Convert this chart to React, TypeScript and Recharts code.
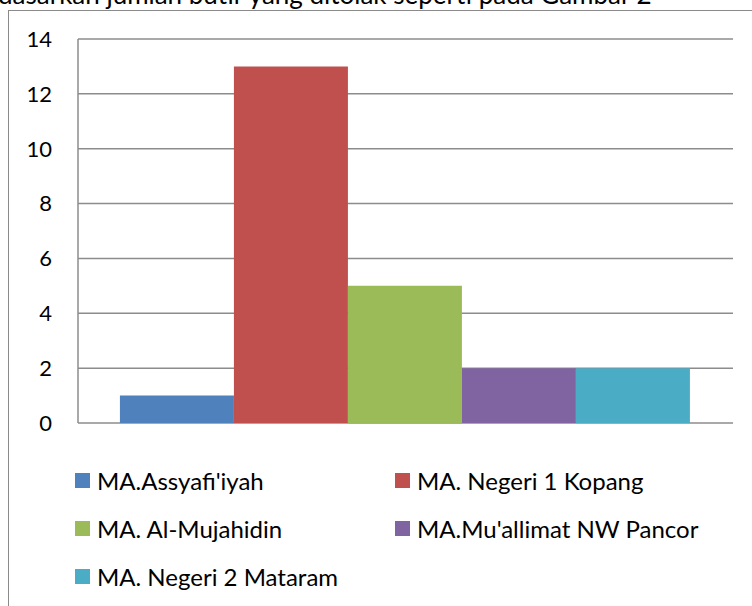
import React from "react";
import { Bar, BarChart, CartesianGrid, XAxis, YAxis } from "recharts";

// one category, five schools
const schools = [
  "MA.Assyafi'iyah",
  "MA. Negeri 1 Kopang",
  "MA. Al-Mujahidin",
  "MA.Mu'allimat NW Pancor",
  "MA. Negeri 2 Mataram",
];
const values = [1, 13, 5, 2, 2];
const colors = ["#4F81BD", "#C0504D", "#9BBB59", "#8064A2", "#4BACC6"];
const yTicks = [0, 2, 4, 6, 8, 10, 12, 14];

const keys = schools.map((_, i) => `s${i}`);
const data = [
  keys.reduce<Record<string, number | string>>(
    (row, k, i) => ({ ...row, [k]: values[i] }),
    { name: "" }
  ),
];

const font = "Lato, 'Open Sans', sans-serif";

export default function App() {
  return (
    <div
      style={{
        position: "absolute",
        left: 0,
        top: 0,
        width: 752,
        height: 606,
        overflow: "hidden",
        background: "#fff",
        fontFamily: font,
      }}
    >
      <div
        style={{
          position: "absolute",
          left: -2,
          top: -22,
          fontSize: 26,
          whiteSpace: "nowrap",
          color: "#000",
        }}
      >
        dasarkan jumlah butir yang ditolak seperti pada Gambar 2
      </div>
      <div
        style={{
          position: "absolute",
          left: 8,
          top: 10,
          width: 800,
          height: 700,
          border: "1.5px solid #8a8a8a",
        }}
      />
      <div style={{ position: "absolute", left: 0, top: 0 }}>
        <BarChart
          width={752}
          height={606}
          data={data}
          margin={{ top: 39, right: 19, bottom: 183, left: 0 }}
          barCategoryGap="6.4%"
          barGap={0}
        >
          <CartesianGrid
            vertical={false}
            stroke="#8c8c8c"
            strokeWidth={1.5}
          />
          <XAxis dataKey="name" hide />
          <YAxis
            width={78}
            domain={[0, 14]}
            ticks={yTicks}
            interval={0}
            tickLine={false}
            axisLine={{ stroke: "#8c8c8c", strokeWidth: 1.5 }}
            tickMargin={20}
            tick={{ fill: "#000", fontSize: 22, fontFamily: font }}
          />
          {keys.map((k, i) => (
            <Bar
              key={k}
              dataKey={k}
              name={schools[i]}
              fill={colors[i]}
              isAnimationActive={false}
            />
          ))}
        </BarChart>
      </div>
      {schools.map((s, i) => (
        <div
          key={s}
          style={{
            position: "absolute",
            left: i % 2 === 0 ? 75 : 395,
            top: 465 + Math.floor(i / 2) * 48,
            display: "flex",
            alignItems: "center",
            height: 30,
            fontSize: 24,
            color: "#000",
            whiteSpace: "nowrap",
          }}
        >
          <span
            style={{
              display: "inline-block",
              width: 15,
              height: 15,
              background: colors[i],
              marginRight: 7,
            }}
          />
          {s}
        </div>
      ))}
    </div>
  );
}
